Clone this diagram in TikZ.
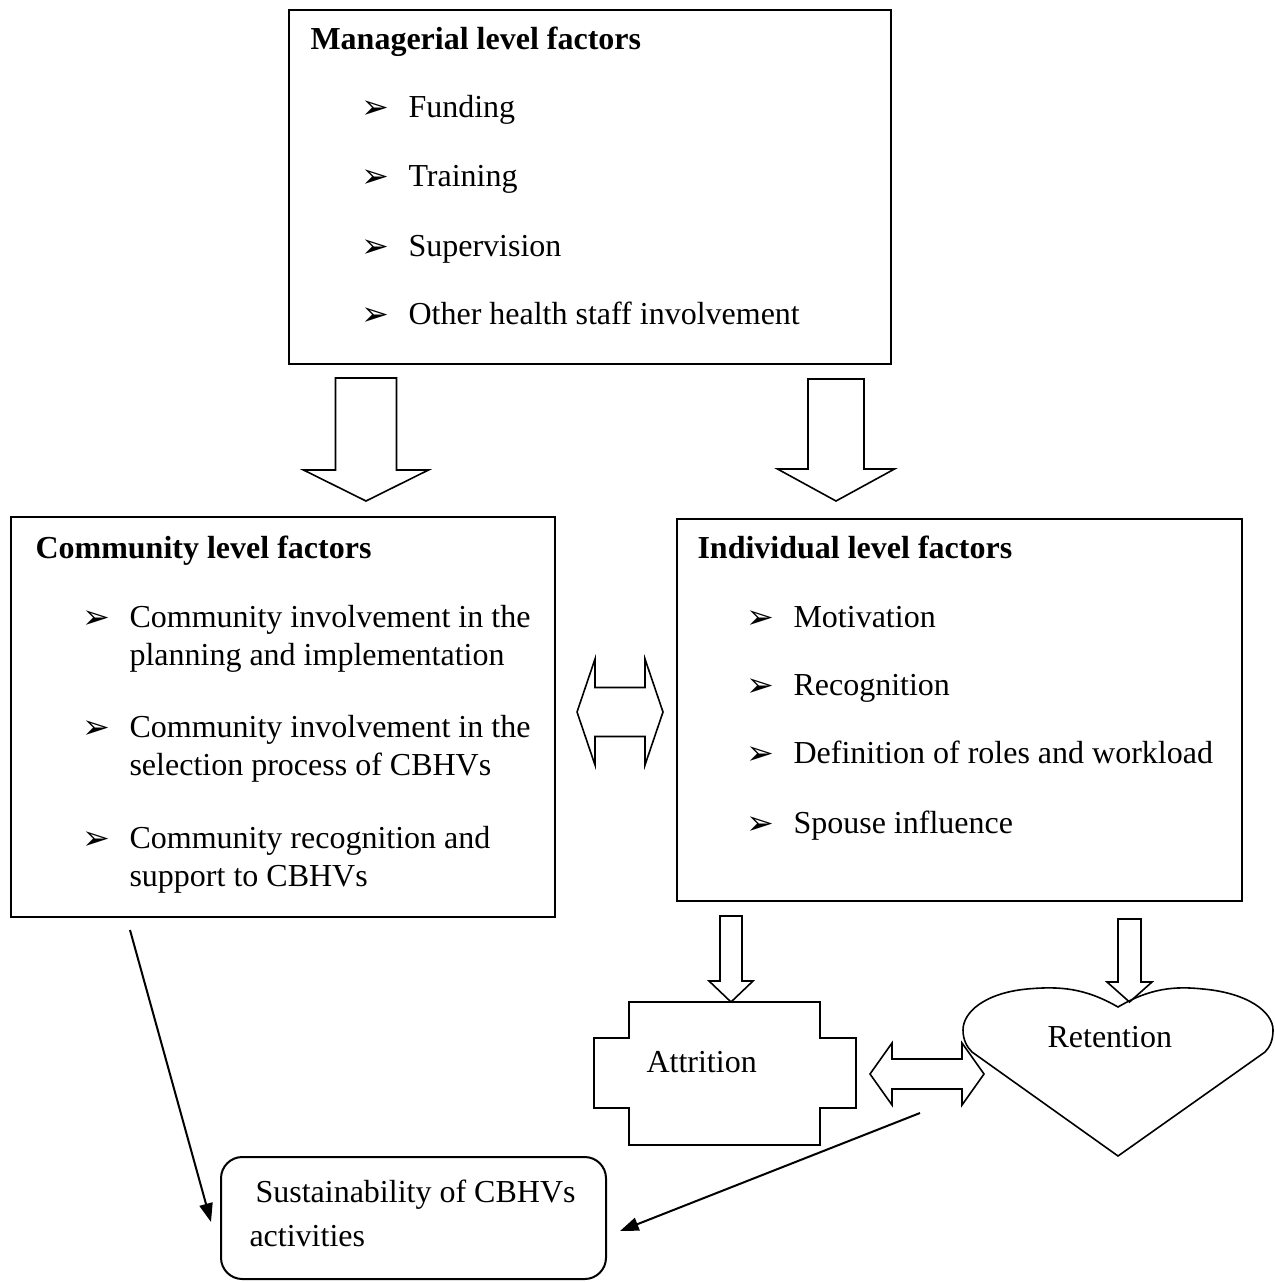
\documentclass[tikz,border=0pt]{standalone}
\usepackage{fontspec}
\setmainfont{Liberation Serif}
\newfontfamily\symfont{DejaVu Sans}
\usetikzlibrary{arrows.meta,fit}
\newcommand\arrbul{{\symfont\fontsize{12.5}{12}\selectfont ➢}}
% down block arrow: centre x, top y, tip y, head length, half head, half shaft
\newcommand\downblock[6]{\draw[blk](#1-#6,#2)--(#1+#6,#2)--(#1+#6,#3-#4)--(#1+#5,#3-#4)--(#1,#3)--(#1-#5,#3-#4)--(#1-#6,#3-#4)--cycle;}
% two-headed block arrow: left tip x, right tip x, centre y, head length, half head, half shaft
\newcommand\bothblock[6]{\draw[blk](#1,#3)--(#1+#4,#3-#5)--(#1+#4,#3-#6)--(#2-#4,#3-#6)--(#2-#4,#3-#5)--(#2,#3)--(#2-#4,#3+#5)--(#2-#4,#3+#6)--(#1+#4,#3+#6)--(#1+#4,#3+#5)--cycle;}
\newcommand\bulitem[4]{\node[bul](#1b)at(#2-47,#3+1){\arrbul};\node[txt](#1)at(#2,#3){#4};}

\begin{document}
\begin{tikzpicture}[x=0.375pt,y=-0.375pt,
 box/.style={draw,line width=.75pt,inner sep=0pt},
 txt/.style={anchor=base west,inner sep=0pt,font=\fontsize{12}{14}\selectfont},
 head/.style={txt,font=\fontsize{12}{14}\selectfont\bfseries},
 bul/.style={anchor=base west,inner sep=0pt},
 blk/.style={draw,line width=.6pt,line join=miter},
 conn/.style={line width=.75pt,-{Triangle[length=7pt,width=5pt]}}]
\useasboundingbox(0,0)rectangle(1274,1282);
% managerial
\node[box,fit={(289,10)(891,364)}](mgr){};
\node[head](mgrt)at(310,50){Managerial level factors};
\bulitem{fund}{408}{118}{Funding}
\bulitem{train}{408}{187}{Training}
\bulitem{superv}{408}{257}{Supervision}
\bulitem{staff}{408}{325}{Other health staff involvement}
\downblock{366}{378}{501}{31}{62.5}{30.5}
\downblock{836}{379}{501}{32}{58.5}{28}
% community
\node[box,fit={(11,517)(555,917)}](comm){};
\node[head](commt)at(35,558){Community level factors};
\bulitem{cplan}{129}{627}{Community involvement in the}
\node[txt](cplan2)at(129,665){planning and implementation};
\bulitem{csel}{129}{737}{Community involvement in the}
\node[txt](csel2)at(129,775){selection process of CBHVs};
\bulitem{crec}{129}{848}{Community recognition and}
\node[txt](crec2)at(129,886){support to CBHVs};
\bothblock{577}{663}{712}{18}{53}{24.5}
% individual
\node[box,fit={(677,519)(1242,901)}](ind){};
\node[head](indt)at(697,558){Individual level factors};
\bulitem{mot}{793}{627}{Motivation}
\bulitem{recog}{793}{695}{Recognition}
\bulitem{roles}{793}{763}{Definition of roles and workload}
\bulitem{spouse}{793}{833}{Spouse influence}
\downblock{731}{916}{1002}{21}{22}{11}
\downblock{1129.5}{919}{1002}{20}{22.5}{11.5}
% attrition and retention
\draw[blk](629,1002)--(820,1002)--(820,1038)--(856,1038)--(856,1108)--(820,1108)--(820,1145)--(629,1145)--(629,1108)--(594,1108)--(594,1038)--(629,1038)--cycle;
\node[txt](att)at(646,1072){Attrition};
\draw[blk](1118,1007)..controls(1085,988)and(1060,986)..(1027,989)..controls(985,993)and(963,1012)..(963,1030)..controls(963,1040)and(967,1047)..(972,1052)--(1118,1156)--(1265,1052)..controls(1270,1047)and(1273,1040)..(1273,1030)..controls(1273,1012)and(1248,993)..(1203,989)..controls(1175,986)and(1150,988)..(1118,1007)--cycle;
\node[txt](ret)at(1047,1047){Retention};
\bothblock{870}{984}{1074}{22}{31}{15}
% sustainability
\node[box,rounded corners=8pt,fit={(221,1157)(606,1279)}](sus){};
\node[txt](sust)at(255,1202){Sustainability of CBHVs};
\node[txt](sust2)at(249,1246){activities};
\coordinate(c1)at(130,930);\coordinate(c2)at(211,1222);
\coordinate(r1)at(920,1113);\coordinate(r2)at(620,1231);
\draw[conn](c1)--(c2);
\draw[conn](r1)--(r2);
\end{tikzpicture}
\end{document}
